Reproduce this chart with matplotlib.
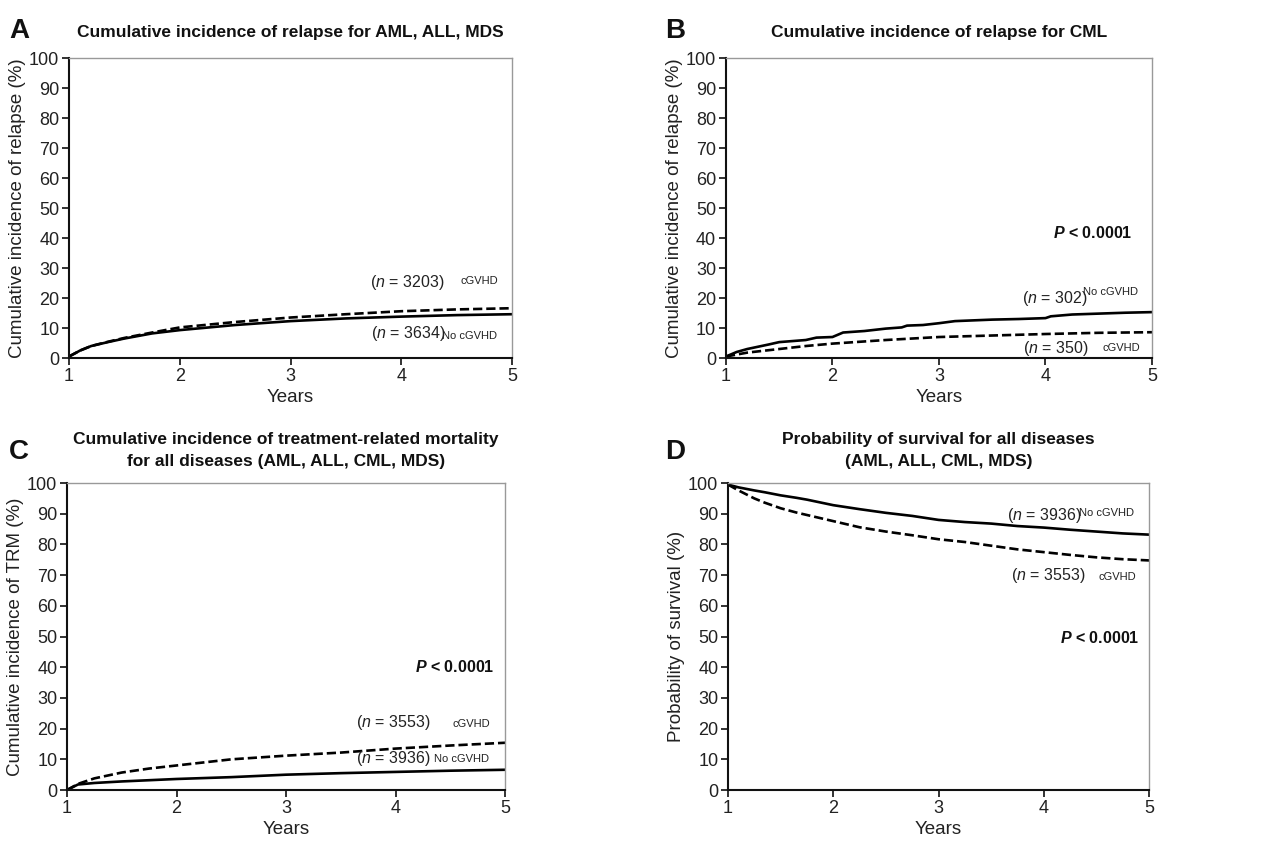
import matplotlib
matplotlib.use("Agg")
import matplotlib.pyplot as plt

FONT = ['Liberation Sans', 'DejaVu Sans']
plt.rcParams['font.family'] = FONT
plt.rcParams['mathtext.fontset'] = 'custom'
plt.rcParams['mathtext.rm'] = 'Liberation Sans'
plt.rcParams['mathtext.it'] = 'Liberation Sans:italic'
plt.rcParams['mathtext.bf'] = 'Liberation Sans:bold'
plt.rcParams['mathtext.bfit'] = 'Liberation Sans:italic:bold'

# Panel A - relapse AML, ALL, MDS
a_years = [1, 1.1, 1.2, 1.35, 1.5, 1.75, 2, 2.5, 3, 3.5, 4, 4.5, 5]
a_no_cgvhd = [0.5, 2.5, 4, 5.3, 6.5, 8.2, 9.3, 11, 12.3, 13.2, 13.8, 14.3, 14.6]
a_cgvhd = [0.5, 2.5, 4, 5.4, 6.7, 8.5, 10.2, 12, 13.5, 14.6, 15.6, 16.2, 16.6]

# Panel B - relapse CML
b_years_no = [1, 1.1, 1.2, 1.4, 1.5, 1.75, 1.85, 2, 2.1, 2.3, 2.5, 2.65, 2.7, 2.85,
              3, 3.15, 3.5, 3.75, 4, 4.05, 4.25, 4.5, 4.75, 5]
b_no_cgvhd = [0.5, 2, 3, 4.5, 5.3, 6, 6.8, 7, 8.5, 9, 9.8, 10.2, 10.8, 11,
              11.6, 12.3, 12.8, 13, 13.3, 13.9, 14.5, 14.8, 15.1, 15.3]
b_years_c = [1, 1.2, 1.5, 1.75, 2, 2.5, 3, 3.5, 4, 4.5, 5]
b_cgvhd = [0.5, 1.8, 3, 4, 4.8, 6, 7, 7.5, 8, 8.4, 8.6]

# Panel C - TRM
c_years = [1, 1.1, 1.25, 1.5, 1.75, 2, 2.5, 3, 3.5, 4, 4.5, 5]
c_cgvhd = [0, 2, 3.8, 5.7, 7, 8, 10, 11.2, 12.2, 13.5, 14.5, 15.4]
c_no_cgvhd = [0, 1.8, 2.3, 2.8, 3.2, 3.6, 4.2, 5, 5.5, 5.9, 6.3, 6.6]

# Panel D - survival
d_years = [1, 1.1, 1.25, 1.35, 1.5, 1.65, 1.75, 2, 2.25, 2.5, 2.75, 3, 3.25, 3.5, 3.75, 4,
           4.25, 4.5, 4.75, 5]
d_no_cgvhd = [99.5, 98.6, 97.6, 97, 96, 95.2, 94.6, 92.8, 91.5, 90.3, 89.3, 88, 87.3,
              86.8, 86, 85.5, 84.8, 84.2, 83.6, 83.2]
d_cgvhd = [99.5, 97.6, 95, 93.6, 91.8, 90.4, 89.6, 87.6, 85.6, 84.2, 83, 81.7, 80.8,
           79.6, 78.4, 77.5, 76.6, 75.8, 75.2, 74.8]

xticks = [1, 2, 3, 4, 5]
yticks = list(range(0, 101, 10))

fig = plt.figure(figsize=(12.86, 8.41), dpi=100)
axA = fig.add_axes([0.0537, 0.5743, 0.3445, 0.3567])
axB = fig.add_axes([0.5645, 0.5743, 0.3313, 0.3567])
axC = fig.add_axes([0.0521, 0.0606, 0.3406, 0.365])
axD = fig.add_axes([0.5661, 0.0606, 0.3274, 0.365])


def style(ax, ylabel):
    ax.set_xlim(1, 5)
    ax.set_ylim(0, 100)
    ax.set_xticks(xticks)
    ax.set_yticks(yticks)
    ax.tick_params(direction='out', length=5, width=1.3, labelsize=13, pad=2, colors='#222222')
    for s in ['left', 'bottom']:
        ax.spines[s].set_color('#111111')
        ax.spines[s].set_linewidth(1.5)
    for s in ['top', 'right']:
        ax.spines[s].set_color('#999999')
        ax.spines[s].set_linewidth(1.0)
    ax.set_xlabel('Years', fontsize=13.5, labelpad=3, color='#222222')
    ax.set_ylabel(ylabel, fontsize=13.5, labelpad=2, color='#222222')


solid = dict(color='black', lw=1.9, linestyle='-')
dashed = dict(color='black', lw=1.9, linestyle=(0, (3.5, 1.5)))
nfs = 11.5
sfs = 8
pfs = 11.5


def nlabel(ax, xr, y, s):
    ax.text(xr, y, s, fontsize=nfs, va='center', ha='right', color='#222222')


def small(ax, xr, y, s):
    ax.text(xr, y, s, fontsize=sfs, va='center', ha='right', color='#222222')


def pval(ax, xr, y):
    ax.text(xr, y, r'$\mathbfit{P}$ < 0.0001', fontsize=pfs, fontweight='bold',
            va='center', ha='right', color='#111111')


# A
axA.plot(a_years, a_no_cgvhd, **solid)
axA.plot(a_years, a_cgvhd, **dashed)
style(axA, 'Cumulative incidence of relapse (%)')
nlabel(axA, 4.39, 25.3, r'($\mathit{n}$ = 3203)')
small(axA, 4.87, 25.6, 'cGVHD')
nlabel(axA, 4.40, 8.3, r'($\mathit{n}$ = 3634)')
small(axA, 4.86, 7.4, 'No cGVHD')
axA.set_title('Cumulative incidence of relapse for AML, ALL, MDS', fontsize=12.5,
              fontweight='bold', pad=15, color='#111111')

# B
axB.plot(b_years_no, b_no_cgvhd, **solid)
axB.plot(b_years_c, b_cgvhd, **dashed)
style(axB, 'Cumulative incidence of relapse (%)')
pval(axB, 4.82, 41.7)
nlabel(axB, 4.39, 20, r'($\mathit{n}$ = 302)')
small(axB, 4.87, 22, 'No cGVHD')
nlabel(axB, 4.40, 3.3, r'($\mathit{n}$ = 350)')
small(axB, 4.89, 3.3, 'cGVHD')
axB.set_title('Cumulative incidence of relapse for CML', fontsize=12.5,
              fontweight='bold', pad=15, color='#111111')

# C
axC.plot(c_years, c_cgvhd, **dashed)
axC.plot(c_years, c_no_cgvhd, **solid)
style(axC, 'Cumulative incidence of TRM (%)')
pval(axC, 4.90, 40)
nlabel(axC, 4.32, 22, r'($\mathit{n}$ = 3553)')
small(axC, 4.86, 21.6, 'cGVHD')
nlabel(axC, 4.32, 10.4, r'($\mathit{n}$ = 3936)')
small(axC, 4.85, 10.2, 'No cGVHD')
axC.set_title('Cumulative incidence of treatment-related mortality\nfor all diseases (AML, ALL, CML, MDS)',
              fontsize=12.5, fontweight='bold', pad=12, linespacing=1.6, color='#111111')

# D
axD.plot(d_years, d_no_cgvhd, **solid)
axD.plot(d_years, d_cgvhd, **dashed)
style(axD, 'Probability of survival (%)')
nlabel(axD, 4.36, 89.3, r'($\mathit{n}$ = 3936)')
small(axD, 4.86, 90.3, 'No cGVHD')
nlabel(axD, 4.40, 70, r'($\mathit{n}$ = 3553)')
small(axD, 4.88, 69.4, 'cGVHD')
pval(axD, 4.91, 49.5)
axD.set_title('Probability of survival for all diseases\n(AML, ALL, CML, MDS)',
              fontsize=12.5, fontweight='bold', pad=12, linespacing=1.6, color='#111111')

# panel letters
for lab, x, y in [('A', 0.007, 0.963), ('B', 0.517, 0.963), ('C', 0.007, 0.463), ('D', 0.517, 0.463)]:
    fig.text(x, y, lab, fontsize=20, fontweight='bold', va='center', ha='left', color='#111111')

fig.savefig('out.png', dpi=100)
